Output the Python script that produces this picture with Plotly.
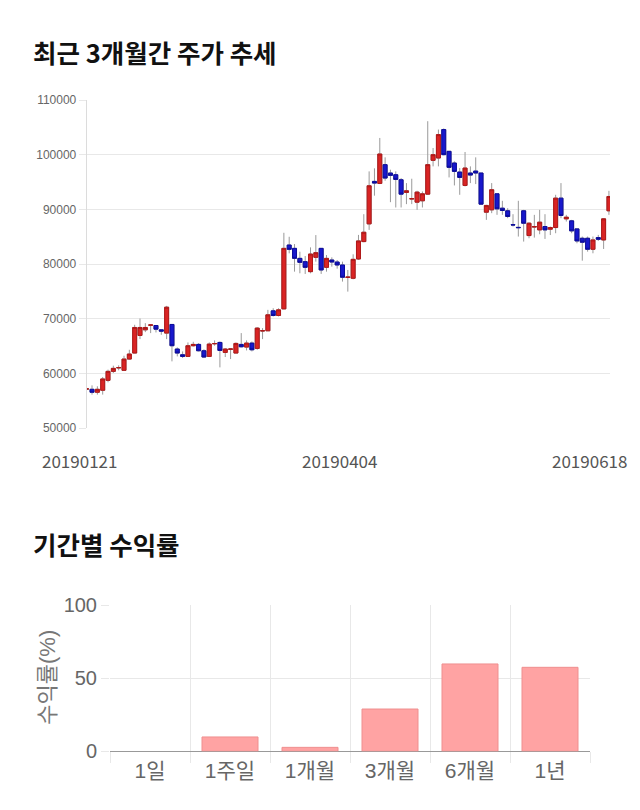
import plotly.graph_objects as go

# ---------------- data ----------------
opens = [57150, 57080, 56540, 56900, 58720, 60360, 61000, 60550, 62610, 63710,
         66930, 67960, 68800, 68750, 67960, 67360, 68940, 64440, 63400, 63100,
         65050, 65290, 64130, 63100, 65400, 65650, 63830, 64400, 63710, 65290,
         64800, 65530, 64560, 67750, 67780, 71430, 70580, 71790, 83470, 82860,
         81030, 80430, 78600, 81220, 82860, 79390, 80730, 80360, 79820, 77550,
         77390, 80920, 84100, 87340, 95110, 94740, 98170, 96640, 96330, 95410,
         93090, 91900, 91310, 91560, 92780, 98960, 99390, 104590, 100610, 98470,
         96820, 94370, 96640, 97000, 96640, 89480, 89910, 92840, 90210, 89730,
         87200, 86700, 89730, 85200, 86750, 86240, 86850, 86360, 86670, 92050,
         88260, 87890, 86420, 84710, 84710, 82690, 84830, 84400, 89730]
highs = [57350, 57800, 57630, 59330, 60670, 61400, 61460, 63220, 64310, 68880,
         70030, 69180, 68930, 68800, 67960, 72340, 68940, 64740, 64010, 65650,
         65770, 65530, 64400, 65650, 66020, 65830, 64620, 64620, 65650, 67360,
         66020, 65830, 68450, 68270, 71610, 71910, 71910, 85710, 84980, 83650,
         82250, 81460, 83040, 85290, 82860, 81640, 81220, 80730, 80430, 78910,
         81770, 85320, 89110, 96940, 97500, 103060, 99510, 97250, 96940, 95720,
         94800, 95600, 93400, 93270, 106120, 101220, 104590, 104800, 100610, 98780,
         97550, 100490, 97860, 99510, 96640, 90830, 94800, 92840, 91560, 90210,
         89110, 91560, 89910, 87650, 88990, 89910, 89110, 86850, 92660, 94800,
         88990, 88070, 86540, 85020, 85020, 85020, 85320, 88380, 93390]
lows = [56950, 56110, 56110, 56110, 58360, 60060, 60550, 60550, 62490, 63710,
        66260, 67540, 67360, 67480, 67050, 66260, 62190, 63100, 62800, 62980,
        64900, 64010, 62800, 62980, 65050, 61090, 62980, 62610, 63710, 64740,
        64190, 64010, 64310, 66260, 67780, 70400, 70400, 71730, 81950, 78600,
        78300, 78180, 78300, 80430, 78180, 78600, 79510, 79150, 76780, 74950,
        77200, 80730, 83980, 86240, 92500, 94620, 95230, 91310, 90340, 90340,
        90950, 90950, 89910, 90340, 92660, 97860, 97860, 99880, 95840, 94370,
        92660, 94190, 94800, 94620, 90830, 88070, 89300, 88990, 88990, 88380,
        86850, 85020, 84100, 84710, 84830, 85440, 84590, 85300, 85630, 88380,
        87770, 85630, 83790, 80610, 82260, 81960, 84220, 82750, 88990]
closes = [57150, 56540, 57080, 58970, 60360, 60910, 61050, 62610, 63530, 68390,
          68390, 68390, 68850, 68080, 67720, 72100, 65050, 63710, 63100, 65050,
          65290, 64130, 62980, 65350, 65450, 64190, 64440, 64450, 65470, 64860,
          65530, 64310, 68270, 67800, 70700, 70580, 71610, 82860, 82680, 81030,
          80300, 79390, 81820, 82070, 78910, 81030, 80360, 79820, 77570, 77600,
          80850, 84220, 85810, 94310, 94800, 100120, 95720, 96210, 95470, 92780,
          93390, 91950, 93150, 92840, 98170, 100000, 103670, 100000, 97680, 96940,
          95840, 97550, 96270, 96640, 90950, 90710, 93580, 90090, 89790, 88690,
          87150, 86650, 87460, 87460, 86850, 87650, 86240, 86670, 92050, 88870,
          88560, 86060, 84220, 83980, 82690, 84400, 84520, 88260, 92350]
date_labels = ["20190121", "20190404", "20190618"]

periods = ["1일", "1주일", "1개월", "3개월", "6개월", "1년"]
returns = [0.0, 9.8, 2.7, 28.9, 59.7, 57.4]

# ---------------- figure ----------------
W, H = 640, 810
idx = list(range(len(opens)))
body_hi = [max(o, c) for o, c in zip(opens, closes)]
body_lo = [min(o, c) for o, c in zip(opens, closes)]

fig = go.Figure()
# wicks (grey)
fig.add_trace(go.Candlestick(
    x=idx, open=opens, high=highs, low=lows, close=closes,
    increasing=dict(line=dict(color="#9a9a9a", width=1), fillcolor="#9a9a9a"),
    decreasing=dict(line=dict(color="#9a9a9a", width=1), fillcolor="#9a9a9a"),
    whiskerwidth=0, showlegend=False, hoverinfo="skip", xaxis="x", yaxis="y"))
# bodies
fig.add_trace(go.Candlestick(
    x=idx, open=opens, high=body_hi, low=body_lo, close=closes,
    increasing=dict(line=dict(color="#b01818", width=1), fillcolor="#d92424"),
    decreasing=dict(line=dict(color="#0c0c9c", width=1), fillcolor="#1818cc"),
    whiskerwidth=0, showlegend=False, xaxis="x", yaxis="y"))

fig.add_trace(go.Bar(
    x=periods, y=returns, width=0.7,
    marker=dict(color="#ffa3a3",
                line=dict(color="#ef8f8f", width=[0 if v == 0 else 1 for v in returns])),
    showlegend=False, xaxis="x2", yaxis="y2"))

def py(px):
    return 1 - px / H

X_DOM = [86.7 / W, 610 / W]
X_RNG = [0, 98.2]

def px_x(v):
    return X_DOM[0] + (v - X_RNG[0]) / (X_RNG[1] - X_RNG[0]) * (X_DOM[1] - X_DOM[0])

grid = "#e8e8e8"
fig.update_layout(
    template="none",
    width=W, height=H, margin=dict(l=0, r=0, t=0, b=0, pad=0),
    paper_bgcolor="white", plot_bgcolor="white",
    boxgap=0.25, boxgroupgap=0, boxmode="overlay",
    xaxis=dict(domain=X_DOM, range=X_RNG, automargin=False,
               showgrid=False, zeroline=False, showticklabels=False, showline=False,
               ticks="", rangeslider=dict(visible=False), fixedrange=True),
    yaxis=dict(domain=[py(428), py(100)], range=[50000, 110000], dtick=10000,
               automargin=False, tickformat="d", showgrid=True, gridcolor=grid,
               gridwidth=1, zeroline=False,
               showline=True, linecolor="#dcdcdc", linewidth=1,
               ticks="outside", ticklen=7, tickwidth=1, tickcolor=grid,
               tickfont=dict(family="Liberation Sans, Arial", size=12, color="#666")),
    xaxis2=dict(domain=[110 / W, 590 / W], type="category", range=[-0.5, 5.5],
                automargin=False, tickson="boundaries", showgrid=True, gridcolor=grid,
                gridwidth=1, zeroline=False, showline=False,
                ticks="outside", ticklen=11, tickwidth=1, tickcolor=grid,
                ticklabelstandoff=5,
                tickfont=dict(family="Liberation Sans, Noto Sans CJK KR", size=21, color="#666"),
                anchor="y2"),
    yaxis2=dict(domain=[py(751.3), py(605)], range=[0, 100], dtick=50,
                automargin=False, showgrid=True, gridcolor=grid, gridwidth=1,
                zeroline=True, zerolinecolor="#999", zerolinewidth=1, showline=False,
                ticks="outside", ticklen=8, tickwidth=1, tickcolor=grid,
                tickfont=dict(family="Liberation Sans, Arial", size=20, color="#666"),
                anchor="x2"),
)

ann = []
title_font = dict(family="Noto Sans CJK KR", size=25.5, color="#111")
ann.append(dict(text="<b>최근 3개월간 주가 추세</b>", xref="paper", yref="paper",
                x=31 / W, y=py(51), xanchor="left", yanchor="middle",
                showarrow=False, font=title_font))
ann.append(dict(text="<b>기간별 수익률</b>", xref="paper", yref="paper",
                x=31 / W, y=py(543), xanchor="left", yanchor="middle",
                showarrow=False, font=title_font))
# date labels below the candle chart
date_pos = [-1.37, 47.5, 94.4]
for lab, xp in zip(date_labels, date_pos):
    ann.append(dict(text=lab, xref="paper", yref="paper", x=px_x(xp), y=py(461),
                    xanchor="center", yanchor="middle", showarrow=False,
                    font=dict(family="Noto Sans CJK KR", size=17, color="#555")))
# y title of bar chart
ann.append(dict(text="수익률(%)", xref="paper", yref="paper", x=46.7 / W, y=py(677),
                xanchor="center", yanchor="middle", textangle=-90, showarrow=False,
                font=dict(family="Liberation Sans, Noto Sans CJK KR", size=22, color="#777")))
fig.update_layout(annotations=ann)

fig.write_html("out.html")
